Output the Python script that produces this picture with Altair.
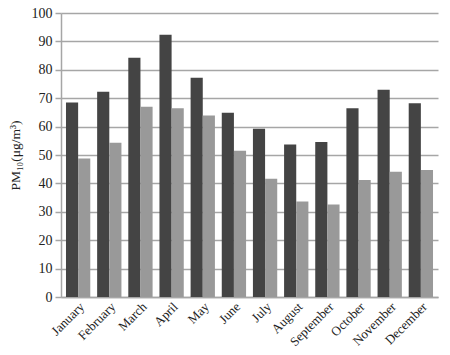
import altair as alt
import pandas as pd

months = ["January", "February", "March", "April", "May", "June", "July",
          "August", "September", "October", "November", "December"]
series_a = [68.5, 72.3, 84.2, 92.3, 77.2, 64.9, 59.2, 53.7, 54.6, 66.5, 73.0, 68.2]
series_b = [48.8, 54.3, 67.0, 66.5, 63.9, 51.5, 41.6, 33.6, 32.6, 41.2, 44.1, 44.7]
series_names = ["A", "B"]

rows = []
for i, m in enumerate(months):
    rows.append({"month": m, "series": series_names[0], "value": series_a[i]})
    rows.append({"month": m, "series": series_names[1], "value": series_b[i]})
df = pd.DataFrame(rows)

font = "Liberation Serif"

chart = alt.Chart(df).mark_bar().encode(
    x=alt.X("month:N", sort=months, title=None,
            scale=alt.Scale(paddingInner=0.22, paddingOuter=0.16),
            axis=alt.Axis(labelAngle=-45, labelAlign="right", labelBaseline="top",
                          ticks=False, labelFont=font, labelFontSize=13,
                          labelColor="#222", domainColor="#a6a6a6", domainWidth=1.5,
                          labelPadding=3)),
    xOffset=alt.XOffset("series:N", sort=series_names),
    y=alt.Y("value:Q", title="PM₁₀(μg/m³)",
            scale=alt.Scale(domain=[0, 100]),
            axis=alt.Axis(values=list(range(0, 101, 10)), labelFont=font, labelFontSize=14,
                          labelColor="#222", tickColor="#a6a6a6", tickSize=6, tickWidth=1.5,
                          gridColor="#a6a6a6", gridWidth=1.5, domainColor="#a6a6a6",
                          domainWidth=1.5, titleFont=font, titleFontSize=13.5,
                          titleFontWeight="normal", titleColor="#222", titlePadding=9,
                          labelPadding=3)),
    color=alt.Color("series:N", sort=series_names,
                    scale=alt.Scale(domain=series_names, range=["#444444", "#999999"]),
                    legend=None),
).properties(
    width=377, height=284,
    padding={"left": 61, "top": 13, "right": 12, "bottom": 58},
    autosize=alt.AutoSizeParams(type="none"),
    background="white",
).configure_view(stroke=None)

chart.save("out.html", embed_options={"renderer": "svg", "actions": False})
